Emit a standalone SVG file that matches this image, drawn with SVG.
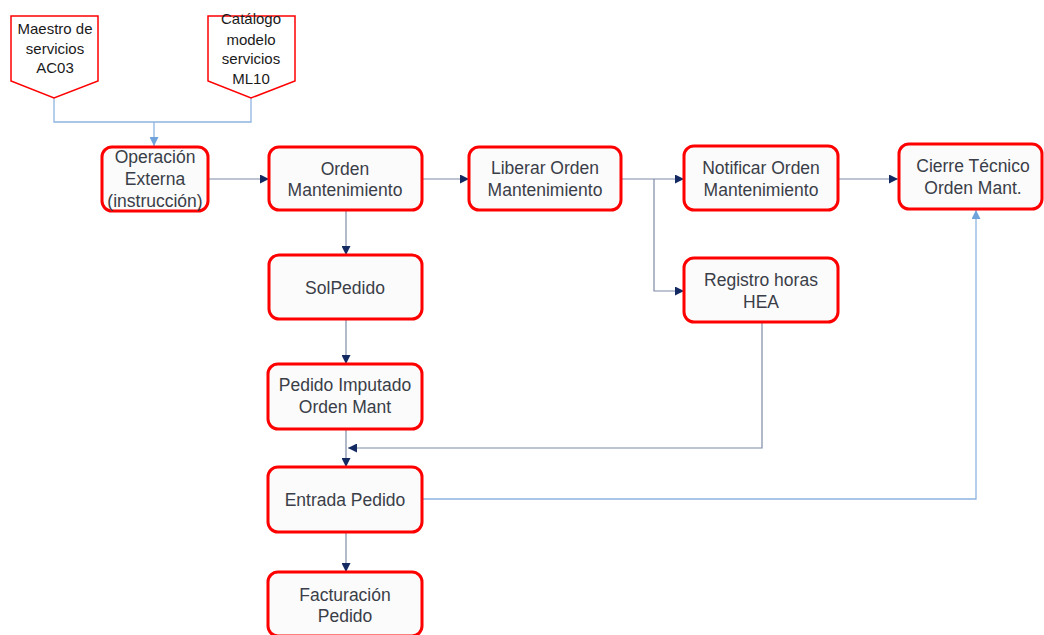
<svg xmlns="http://www.w3.org/2000/svg" width="1044" height="635" viewBox="0 0 1044 635">
  <style>
    .box { fill: #fbfbfb; stroke: #ff0000; stroke-width: 3; }
    .tag { fill: #ffffff; stroke: #ff0000; stroke-width: 1.5; }
    .lbl { font-family: "Liberation Sans", Arial, sans-serif; font-size: 17.5px; fill: #3a3e48; text-anchor: middle; }
    .tlbl { font-family: "Liberation Sans", Arial, sans-serif; font-size: 15px; fill: #1a1a1a; text-anchor: middle; }
    .dark { fill: none; stroke: #7d8aa6; stroke-width: 1.2; }
    .light { fill: none; stroke: #8db4e2; stroke-width: 1.3; }
  </style>
  <defs>
    <marker id="arrDark" viewBox="0 0 10 10" refX="10" refY="5" markerWidth="9" markerHeight="9" markerUnits="userSpaceOnUse" orient="auto">
      <path d="M0,0 L10,5 L0,10 Z" fill="#142a63"/>
    </marker>
    <marker id="arrLight" viewBox="0 0 10 10" refX="10" refY="5" markerWidth="9" markerHeight="9" markerUnits="userSpaceOnUse" orient="auto">
      <path d="M0,0 L10,5 L0,10 Z" fill="#6fa3dc"/>
    </marker>
  </defs>

  <!-- connectors -->
  <g id="connectors">
    <path class="light" d="M54,98 V122 H251 V98"/>
    <path class="light" d="M154,122 V146" marker-end="url(#arrLight)"/>
    <path class="dark" d="M208,179 H269" marker-end="url(#arrDark)"/>
    <path class="dark" d="M422,179 H469" marker-end="url(#arrDark)"/>
    <path class="dark" d="M621,179 H684" marker-end="url(#arrDark)"/>
    <path class="dark" d="M654,179 V291 H684" marker-end="url(#arrDark)"/>
    <path class="dark" d="M838,179 H898" marker-end="url(#arrDark)"/>
    <path class="dark" d="M346,210 V255" marker-end="url(#arrDark)"/>
    <path class="dark" d="M346,319 V364" marker-end="url(#arrDark)"/>
    <path class="dark" d="M346,429 V467" marker-end="url(#arrDark)"/>
    <path class="dark" d="M762,323 V448 H348" marker-end="url(#arrDark)"/>
    <path class="light" d="M422,499 H976 V210" marker-end="url(#arrLight)"/>
    <path class="dark" d="M346,532 V572" marker-end="url(#arrDark)"/>
  </g>

  <!-- off-page reference tags -->
  <g id="maestro">
    <path class="tag" d="M11,16 H98 V81 L54,98 L11,81 Z"/>
    <text class="tlbl" x="55" y="34">Maestro de</text>
    <text class="tlbl" x="55" y="54">servicios</text>
    <text class="tlbl" x="55" y="73">AC03</text>
  </g>
  <g id="catalogo">
    <path class="tag" d="M208,16 H295 V81 L251,98 L208,81 Z"/>
    <text class="tlbl" x="251" y="24">Catálogo</text>
    <text class="tlbl" x="251" y="45">modelo</text>
    <text class="tlbl" x="251" y="64">servicios</text>
    <text class="tlbl" x="251" y="84">ML10</text>
  </g>

  <!-- process steps -->
  <g id="operacion">
    <rect class="box" x="102" y="147" width="106" height="64" rx="10"/>
    <text class="lbl" x="155" y="163">Operación</text>
    <text class="lbl" x="155" y="185">Externa</text>
    <text class="lbl" x="155" y="207">(instrucción)</text>
  </g>
  <g id="orden">
    <rect class="box" x="269" y="147" width="153" height="63" rx="10"/>
    <text class="lbl" x="345" y="175">Orden</text>
    <text class="lbl" x="345" y="196">Mantenimiento</text>
  </g>
  <g id="liberar">
    <rect class="box" x="469" y="147" width="152" height="63" rx="10"/>
    <text class="lbl" x="545" y="174">Liberar Orden</text>
    <text class="lbl" x="545" y="196">Mantenimiento</text>
  </g>
  <g id="notificar">
    <rect class="box" x="684" y="146" width="154" height="64" rx="10"/>
    <text class="lbl" x="761" y="174">Notificar Orden</text>
    <text class="lbl" x="761" y="196">Mantenimiento</text>
  </g>
  <g id="cierre">
    <rect class="box" x="899" y="144" width="143" height="65" rx="10"/>
    <text class="lbl" x="973" y="172">Cierre Técnico</text>
    <text class="lbl" x="973" y="194">Orden Mant.</text>
  </g>
  <g id="registro">
    <rect class="box" x="684" y="258" width="154" height="64" rx="10"/>
    <text class="lbl" x="761" y="286">Registro horas</text>
    <text class="lbl" x="761" y="308">HEA</text>
  </g>
  <g id="solpedido">
    <rect class="box" x="269" y="255" width="153" height="64" rx="10"/>
    <text class="lbl" x="345" y="294">SolPedido</text>
  </g>
  <g id="pedido">
    <rect class="box" x="268" y="364" width="154" height="65" rx="10"/>
    <text class="lbl" x="345" y="391">Pedido Imputado</text>
    <text class="lbl" x="345" y="413">Orden Mant</text>
  </g>
  <g id="entrada">
    <rect class="box" x="268" y="467" width="154" height="65" rx="10"/>
    <text class="lbl" x="345" y="506">Entrada Pedido</text>
  </g>
  <g id="facturacion">
    <rect class="box" x="268" y="572" width="154" height="64" rx="10"/>
    <text class="lbl" x="345" y="601">Facturación</text>
    <text class="lbl" x="345" y="622">Pedido</text>
  </g>
</svg>
